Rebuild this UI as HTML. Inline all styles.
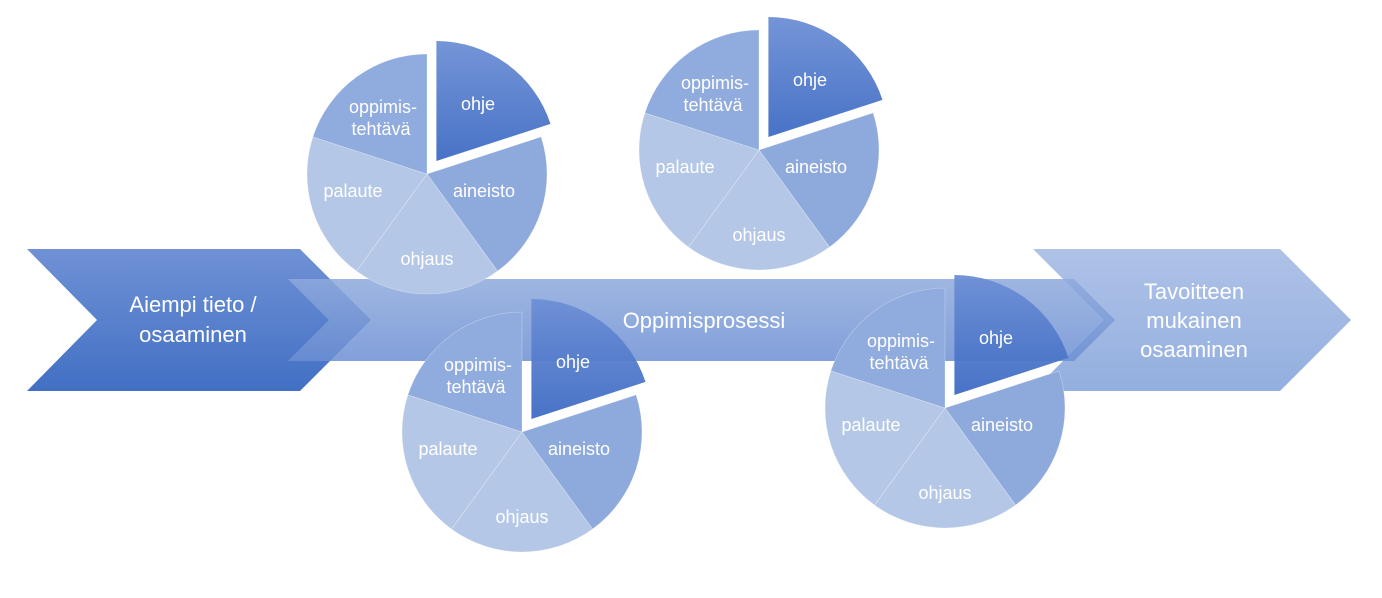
<!DOCTYPE html>
<html><head><meta charset="utf-8"><style>
html,body{margin:0;padding:0;background:#fff;}
svg{display:block;}
text{font-family:"Liberation Sans",sans-serif;fill:#fff;}
</style></head><body>
<svg width="1382" height="598" viewBox="0 0 1382 598" xmlns="http://www.w3.org/2000/svg">
<defs>
<linearGradient id="gL" x1="0" y1="0" x2="0" y2="1"><stop offset="0" stop-color="#7091d5"/><stop offset="1" stop-color="#4270c4"/></linearGradient>
<linearGradient id="gB" x1="0" y1="0" x2="0" y2="1"><stop offset="0" stop-color="#8ea9dc"/><stop offset="1" stop-color="#6c8fd3"/></linearGradient>
<linearGradient id="gR" x1="0" y1="0" x2="0" y2="1"><stop offset="0" stop-color="#afc2e7"/><stop offset="1" stop-color="#93afdf"/></linearGradient>
<linearGradient id="gO" x1="0" y1="0" x2="0" y2="1"><stop offset="0" stop-color="#6d8fd5"/><stop offset="1" stop-color="#3e6bc4"/></linearGradient>
<g id="pie">
<path d="M0,0 L114.1,-37.1 A120,120 0 0 1 70.5,97.1 Z" fill="#8eaadc" stroke="#fff" stroke-opacity="0.4" stroke-width="0.6"/>
<path d="M0,0 L70.5,97.1 A120,120 0 0 1 -70.5,97.1 Z" fill="#b4c7e7" stroke="#fff" stroke-opacity="0.4" stroke-width="0.6"/>
<path d="M0,0 L-70.5,97.1 A120,120 0 0 1 -114.1,-37.1 Z" fill="#b4c7e7" stroke="#fff" stroke-opacity="0.4" stroke-width="0.6"/>
<path d="M0,0 L-114.1,-37.1 A120,120 0 0 1 0,-120 Z" fill="#90abdd" stroke="#fff" stroke-opacity="0.4" stroke-width="0.6"/>
<path d="M9.4,-13 L9.4,-133 A120,120 0 0 1 123.5,-50.1 Z" fill="url(#gO)" fill-opacity="0.95"/>
<g font-size="18" text-anchor="middle">
<text x="51" y="-64">ohje</text>
<text x="-44" y="-61">oppimis-</text>
<text x="-46" y="-39">tehtävä</text>
<text x="-74" y="23">palaute</text>
<text x="57" y="23">aineisto</text>
<text x="0" y="91">ohjaus</text>
</g>
</g>
</defs>
<polygon points="27,249 300,249 371,320 300,391 27,391 97,320" fill="url(#gL)"/>
<polygon points="1033,249 1280,249 1351,320 1280,391 1033,391 1104,320" fill="url(#gR)"/>
<polygon points="288,279 1074,279 1115,320 1074,361 288,361 329,320" fill="url(#gB)" fill-opacity="0.85"/>
<g font-size="22" text-anchor="middle">
<text x="193" y="312">Aiempi tieto /</text>
<text x="193" y="342">osaaminen</text>
<text x="704" y="328">Oppimisprosessi</text>
<text x="1194" y="299">Tavoitteen</text>
<text x="1194" y="328">mukainen</text>
<text x="1194" y="357">osaaminen</text>
</g>
<use href="#pie" x="427" y="174"/>
<use href="#pie" x="759" y="150"/>
<use href="#pie" x="522" y="432"/>
<use href="#pie" x="945" y="408"/>
</svg>
</body></html>
